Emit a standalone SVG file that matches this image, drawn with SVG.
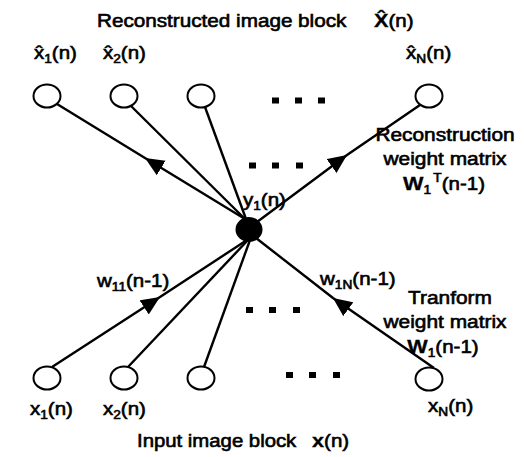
<svg xmlns="http://www.w3.org/2000/svg" width="524" height="457" viewBox="0 0 524 457">
  <style>
    text { font-family: "Liberation Sans", Arial, sans-serif; font-size: 18px; fill: #000; stroke: #000; stroke-width: 0.6; }
    .sub { font-size: 12px; }
    .vec { font-size: 19px; font-weight: bold; stroke-width: 0.3; }
    .mid { text-anchor: middle; }
    .node { fill: #fff; stroke: #000; stroke-width: 2; }
    .hub { fill: #000; stroke: none; }
    .edge { stroke: #000; stroke-width: 2.4; fill: none; }
    .arrow { marker-mid: url(#head); }
    .dot { fill: #000; }
  </style>
  <defs>
    <marker id="head" viewBox="-19 -9 19 18" refX="0" refY="0" markerWidth="19" markerHeight="18" markerUnits="userSpaceOnUse" orient="auto">
      <path d="M0,0 L-19,-8.5 L-19,8.5 Z" fill="#000"/>
    </marker>
  </defs>

  <!-- connectors -->
  <g id="connectors">
    <!-- reconstruction side: hub to outputs -->
    <path class="edge arrow" d="M245,219 L145,158 L57,104"/>
    <path class="edge" d="M245,219 L131,106"/>
    <path class="edge" d="M246,219 L205,107"/>
    <path class="edge arrow" d="M257,222 L347,155 L420,105"/>
    <!-- transform side: inputs to hub -->
    <path class="edge arrow" d="M52,367 L160,297 L247,240"/>
    <path class="edge" d="M128,367 L248,240"/>
    <path class="edge" d="M204,367 L250,240"/>
    <path class="edge arrow" d="M434,368 L333,298 L256,238"/>
  </g>

  <!-- output neurons -->
  <g id="out1"><ellipse class="node" cx="47" cy="96" rx="13.5" ry="11.5"/></g>
  <g id="out2"><ellipse class="node" cx="124" cy="96" rx="13.5" ry="11.5"/></g>
  <g id="out3"><ellipse class="node" cx="201" cy="96" rx="13.5" ry="11.5"/></g>
  <g id="outN"><ellipse class="node" cx="429" cy="96" rx="13.5" ry="11.5"/></g>

  <!-- hidden neuron -->
  <g id="hub"><ellipse class="hub" cx="249" cy="229.5" rx="13.5" ry="12.5"/></g>

  <!-- input neurons -->
  <g id="in1"><ellipse class="node" cx="47" cy="378" rx="13.5" ry="11.5"/></g>
  <g id="in2"><ellipse class="node" cx="124" cy="378" rx="13.5" ry="11.5"/></g>
  <g id="in3"><ellipse class="node" cx="201" cy="378" rx="13.5" ry="11.5"/></g>
  <g id="inN"><ellipse class="node" cx="429" cy="379" rx="13.5" ry="11.5"/></g>

  <!-- ellipsis dots -->
  <g id="ellipses">
    <rect class="dot" x="272" y="97.5" width="7" height="6"/>
    <rect class="dot" x="295" y="97.5" width="7" height="6"/>
    <rect class="dot" x="318" y="97.5" width="7" height="6"/>
    <rect class="dot" x="249" y="162.5" width="7" height="6"/>
    <rect class="dot" x="272" y="162.5" width="7" height="6"/>
    <rect class="dot" x="296" y="162.5" width="7" height="6"/>
    <rect class="dot" x="246" y="307" width="7" height="6"/>
    <rect class="dot" x="269" y="307" width="7" height="6"/>
    <rect class="dot" x="293" y="307" width="7" height="6"/>
    <rect class="dot" x="286" y="372" width="7" height="6"/>
    <rect class="dot" x="309" y="372" width="7" height="6"/>
    <rect class="dot" x="333" y="372" width="7" height="6"/>
  </g>

  <!-- labels -->
  <g id="labels">
    <text transform="translate(97 27) scale(1.15 1)">Reconstructed image block</text>
    <text transform="translate(374 27) scale(1.14 1)"><tspan class="vec">X&#x302;</tspan>(n)</text>

    <text transform="translate(34 59) scale(1.14 1)">x&#x302;<tspan class="sub" dy="4">1</tspan><tspan dy="-4">(n)</tspan></text>
    <text transform="translate(103 59) scale(1.14 1)">x&#x302;<tspan class="sub" dy="4">2</tspan><tspan dy="-4">(n)</tspan></text>
    <text transform="translate(406 59) scale(1.14 1)">x&#x302;<tspan class="sub" dy="4">N</tspan><tspan dy="-4">(n)</tspan></text>

    <text class="mid" transform="translate(445 141) scale(1.16 1)">Reconstruction</text>
    <text class="mid" transform="translate(445 165) scale(1.16 1)">weight matrix</text>
    <text class="mid" transform="translate(444 190) scale(1.14 1)"><tspan class="vec">W</tspan><tspan class="sub" dy="4">1</tspan><tspan class="sub" dx="2" dy="-12">T</tspan><tspan dy="8">(n-1)</tspan></text>

    <text transform="translate(243 206) scale(1.14 1)">y<tspan class="sub" dy="4">1</tspan><tspan dy="-4">(n)</tspan></text>

    <text transform="translate(97 287) scale(1.14 1)">w<tspan class="sub" dy="4">11</tspan><tspan dy="-4">(n-1)</tspan></text>
    <text transform="translate(320 285) scale(1.14 1)">w<tspan class="sub" dy="4">1N</tspan><tspan dy="-4">(n-1)</tspan></text>

    <text class="mid" transform="translate(450 304) scale(1.16 1)">Tranform</text>
    <text class="mid" transform="translate(445 328) scale(1.16 1)">weight matrix</text>
    <text class="mid" transform="translate(443 353) scale(1.14 1)"><tspan class="vec">W</tspan><tspan class="sub" dy="4">1</tspan><tspan dy="-4">(n-1)</tspan></text>

    <text transform="translate(30 415) scale(1.14 1)">x<tspan class="sub" dy="4">1</tspan><tspan dy="-4">(n)</tspan></text>
    <text transform="translate(103 415) scale(1.14 1)">x<tspan class="sub" dy="4">2</tspan><tspan dy="-4">(n)</tspan></text>
    <text transform="translate(428 412) scale(1.14 1)">x<tspan class="sub" dy="4">N</tspan><tspan dy="-4">(n)</tspan></text>

    <text transform="translate(137 447) scale(1.13 1)">Input image block</text>
    <text transform="translate(312 447) scale(1.14 1)"><tspan class="vec">x</tspan>(n)</text>
  </g>
</svg>
